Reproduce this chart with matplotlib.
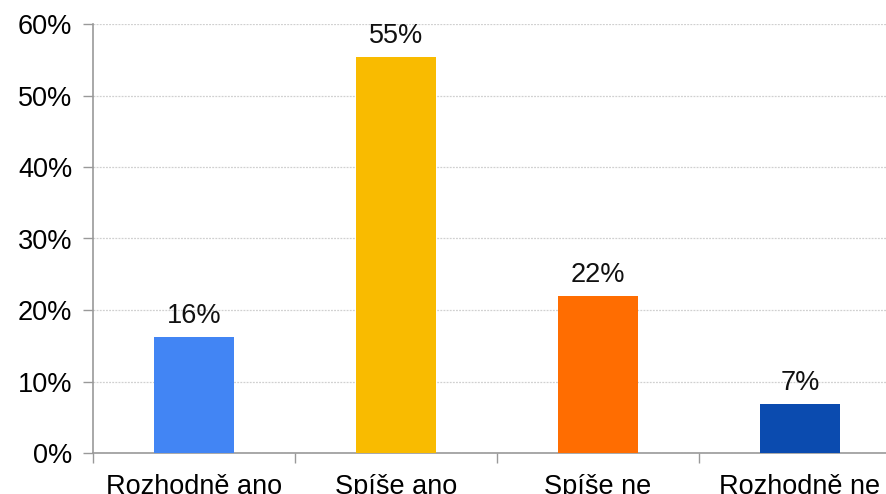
import numpy as np
import matplotlib
matplotlib.use("Agg")
import matplotlib.pyplot as plt

# ── Data ─────────────────────────────────────────────────────────────────────
categories = ["Rozhodně ano", "Spíše ano", "Spíše ne", "Rozhodně ne"]
values     = [0.162, 0.554, 0.219, 0.068]
bar_colors = ["#4285F4", "#F9BB00", "#FF6D01", "#0B4BAF"]

plt.rcParams["font.family"] = ["Liberation Sans", "DejaVu Sans"]

W, H = 887, 494
fig = plt.figure(figsize=(W / 100, H / 100), dpi=100, facecolor="white")
ax = fig.add_axes([93 / W, 41 / H, 808 / W, 429 / H])

x = np.arange(len(categories))
bars = ax.bar(x, values, width=0.4, color=bar_colors, zorder=3)

for b, v in zip(bars, values):
    ax.annotate(f"{v * 100:.0f}%", xy=(b.get_x() + b.get_width() / 2, v),
                xytext=(0, 6), textcoords="offset points",
                ha="center", va="bottom", fontsize=19.5, color="#111111")

ax.set_xlim(-0.5, len(categories) - 0.5)
ax.set_ylim(0, 0.6)
ax.set_yticks(np.arange(0, 0.61, 0.1))
ax.set_yticklabels([f"{int(round(t * 100))}%" for t in np.arange(0, 0.61, 0.1)])

ax.set_xticks(x)
ax.set_xticklabels(categories)
ax.set_xticks(np.arange(-0.5, len(categories)), minor=True)
ax.tick_params(axis="x", which="major", length=0, pad=15, labelsize=19.5)
ax.tick_params(axis="x", which="minor", length=7, color="#999999", width=1)
ax.tick_params(axis="y", length=7, color="#999999", width=1, pad=8, labelsize=19.5)

ax.grid(axis="y", linestyle=(0, (1.5, 1)), color="#D0D0D0", linewidth=0.9, zorder=0)
for side in ("top", "right"):
    ax.spines[side].set_visible(False)
for side in ("left", "bottom"):
    ax.spines[side].set_color("#999999")
    ax.spines[side].set_linewidth(1.2)

fig.savefig("out.png", dpi=100, facecolor="white")
